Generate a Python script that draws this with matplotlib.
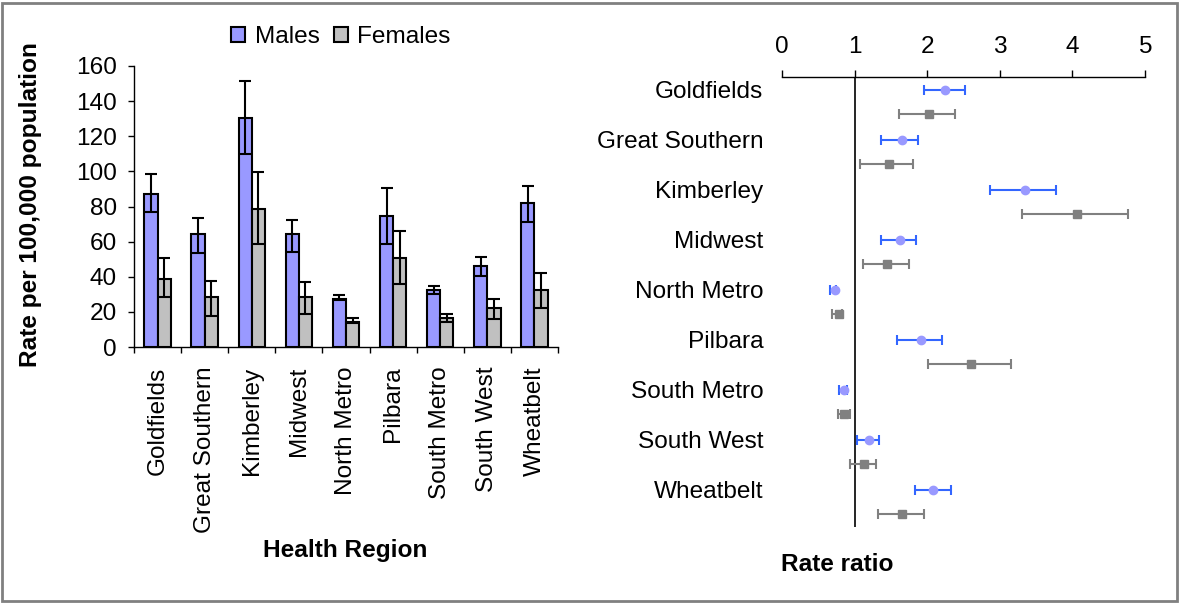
import numpy as np
import matplotlib.pyplot as plt
from matplotlib.patches import Rectangle

plt.rcParams['font.family'] = ['Liberation Sans', 'DejaVu Sans']

regions = ['Goldfields', 'Great Southern', 'Kimberley', 'Midwest', 'North Metro',
           'Pilbara', 'South Metro', 'South West', 'Wheatbelt']

# rates per 100,000 with confidence limits
males = [87.2, 64.2, 130.4, 64.2, 27.4, 74.7, 32.7, 46.2, 81.9]
males_lo = [76.6, 53.6, 110.0, 54.3, 26.6, 58.7, 30.2, 40.7, 71.4]
males_hi = [98.6, 73.7, 151.4, 72.2, 29.5, 90.5, 34.6, 51.5, 91.4]
females = [38.8, 28.3, 78.7, 28.3, 14.4, 50.4, 16.7, 22.0, 32.5]
females_lo = [28.3, 17.7, 58.7, 18.8, 13.9, 35.7, 14.4, 15.8, 22.0]
females_hi = [50.4, 37.8, 99.8, 36.9, 16.5, 66.1, 18.8, 27.4, 42.2]

# rate ratios with confidence limits
rr_m = [2.24, 1.65, 3.35, 1.63, 0.73, 1.92, 0.86, 1.20, 2.08]
rr_m_lo = [1.95, 1.37, 2.86, 1.37, 0.66, 1.59, 0.79, 1.03, 1.83]
rr_m_hi = [2.52, 1.88, 3.78, 1.85, 0.74, 2.20, 0.90, 1.33, 2.33]
rr_f = [2.03, 1.47, 4.06, 1.44, 0.78, 2.60, 0.86, 1.13, 1.65]
rr_f_lo = [1.61, 1.08, 3.31, 1.11, 0.69, 2.01, 0.77, 0.93, 1.32]
rr_f_hi = [2.38, 1.80, 4.76, 1.75, 0.82, 3.15, 0.93, 1.30, 1.96]

FS = 17.6
W, H = 1179, 604

fig = plt.figure(figsize=(W / 100, H / 100), dpi=100)

# ---- left: bar chart ----
ax = fig.add_axes([134 / W, 1 - 347 / H, (558 - 134) / W, (347 - 66) / H])
x = np.arange(len(regions))
bw = 0.28
m = np.array(males)
f = np.array(females)
ax.bar(x - bw / 2, m, bw, color='#9999FF', edgecolor='black', linewidth=1.5, label='Males', zorder=2)
ax.bar(x + bw / 2, f, bw, color='#C0C0C0', edgecolor='black', linewidth=1.5, label='Females', zorder=2)
ax.errorbar(x - bw / 2, m, yerr=[m - np.array(males_lo), np.array(males_hi) - m], fmt='none',
            ecolor='black', elinewidth=1.5, capsize=4, capthick=1.5, zorder=3)
ax.errorbar(x + bw / 2, f, yerr=[f - np.array(females_lo), np.array(females_hi) - f], fmt='none',
            ecolor='black', elinewidth=1.5, capsize=4, capthick=1.5, zorder=3)

ax.set_xlim(-0.5, len(regions) - 0.5)
ax.set_ylim(0, 160)
ax.set_yticks(range(0, 161, 20))
ax.set_xticks(x)
ax.set_xticklabels(regions, rotation=90, va='top', ha='center')
ax.set_xticks(np.arange(-0.5, len(regions), 1), minor=True)
ax.tick_params(axis='x', which='major', length=0, pad=14, labelsize=FS)
ax.tick_params(axis='x', which='minor', length=4.5, width=1, direction='out')
ax.tick_params(axis='y', length=4.5, width=1, pad=8, labelsize=FS)
for s in ['top', 'right']:
    ax.spines[s].set_visible(False)
for s in ['left', 'bottom']:
    ax.spines[s].set_linewidth(1)

ax.set_ylabel('Rate per 100,000 population', fontsize=FS, fontweight='bold')
ax.yaxis.set_label_coords((42 - 134) / 424, (347 - 205) / 281)
ax.set_xlabel('Health Region', fontsize=FS, fontweight='bold', va='center')
ax.xaxis.set_label_coords((345 - 134) / 424, (347 - 551) / 281)

fig.legend(loc='center', bbox_to_anchor=(341 / W, 1 - 37 / H), ncol=2, frameon=False,
           fontsize=FS, handlelength=0.55, handleheight=0.55, handletextpad=0.4,
           columnspacing=0.6, borderaxespad=0)

# ---- right: rate ratio plot ----
ax2 = fig.add_axes([782 / W, 1 - 527 / H, (1145 - 782) / W, (527 - 77) / H])
ym = np.arange(len(regions))
yf = ym + 0.48
rm = np.array(rr_m)
rf = np.array(rr_f)
ax2.errorbar(rm, ym, xerr=[rm - np.array(rr_m_lo), np.array(rr_m_hi) - rm], fmt='o',
             color='#9999FF', ms=6, ecolor='#3366FF', elinewidth=1.5, capsize=3.5, capthick=1.5)
ax2.errorbar(rf, yf, xerr=[rf - np.array(rr_f_lo), np.array(rr_f_hi) - rf], fmt='s',
             color='#808080', ms=5.5, ecolor='#808080', elinewidth=1.5, capsize=3.5, capthick=1.5)
ax2.axvline(1, color='black', lw=1.2, zorder=0)

ax2.set_xlim(0, 5)
ax2.set_ylim(len(regions) - 0.25, -0.25)
ax2.xaxis.tick_top()
ax2.set_xticks(range(0, 6))
ax2.tick_params(axis='x', direction='out', length=5, width=1, pad=9, labelsize=FS)
ax2.set_yticks(ym)
ax2.set_yticklabels(regions)
ax2.tick_params(axis='y', length=0, pad=13.5, labelsize=FS)
for s in ['left', 'right', 'bottom']:
    ax2.spines[s].set_visible(False)
ax2.spines['top'].set_linewidth(1)

ax2.set_xlabel('Rate ratio', fontsize=FS, fontweight='bold', va='center')
ax2.xaxis.set_label_position('bottom')
ax2.xaxis.set_label_coords((837 - 782) / 363, -26 / 450)

# outer frame
fig.patches.append(Rectangle((2 / W, 3 / H), 1175 / W, 598 / H, transform=fig.transFigure,
                             fill=False, edgecolor='#808080', lw=2))

fig.savefig('out.png', dpi=100)
